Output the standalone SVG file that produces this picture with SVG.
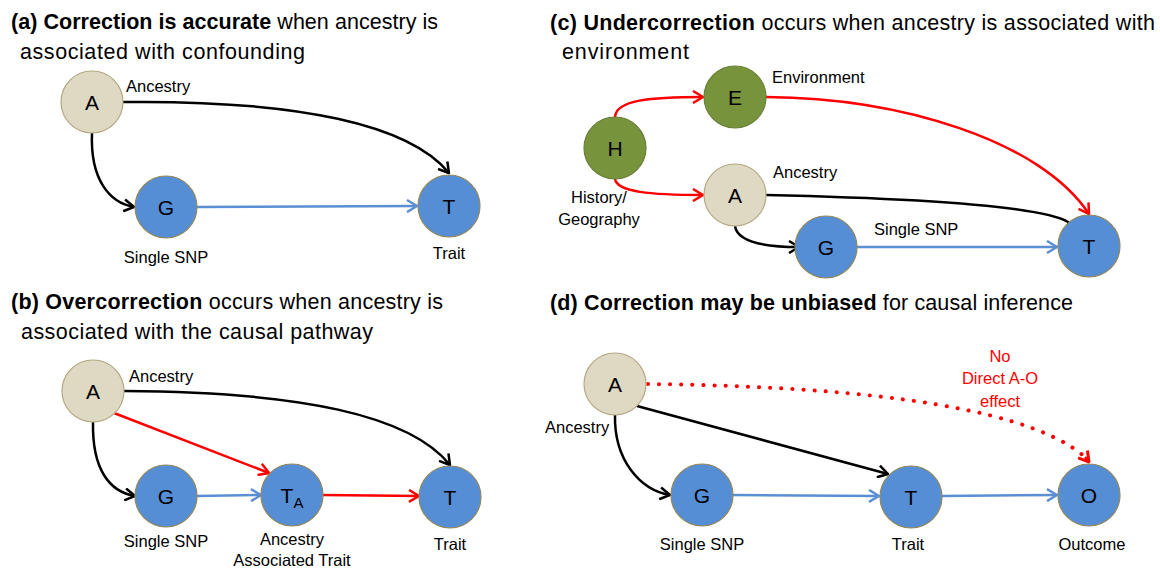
<svg xmlns="http://www.w3.org/2000/svg" width="1160" height="569" viewBox="0 0 1160 569">
<defs>
<style>
.title{font-family:"Liberation Sans",Arial,sans-serif;font-size:21.5px;fill:#000}
.b{font-weight:bold}
.lbl{font-family:"Liberation Sans",Arial,sans-serif;font-size:16.5px;fill:#000}
.red{fill:#ff0000}
.nl{font-family:"Liberation Sans",Arial,sans-serif;font-size:21px;fill:#000;text-anchor:middle}
.mid{text-anchor:middle}
.beige{fill:#ddd9c3;stroke:#b3a882;stroke-width:1.2}
.blue{fill:#558ed5;stroke:#94875a;stroke-width:1.2}
.green{fill:#77933c;stroke:#6a7f38;stroke-width:1.2}
.ek{fill:none;stroke:#000;stroke-width:2.5}
.eb{fill:none;stroke:#5a8fd3;stroke-width:2.5}
.er{fill:none;stroke:#ff0000;stroke-width:2.5}
.ed{fill:none;stroke:#ff0000;stroke-width:4;stroke-linecap:round;stroke-dasharray:0.1 11}
</style>
<marker id="mk" viewBox="0 0 12 14" refX="11" refY="7" markerWidth="12" markerHeight="14" markerUnits="userSpaceOnUse" orient="auto"><path d="M1,1 L11,7 L1,13" fill="none" stroke="#000" stroke-width="2.5"/></marker>
<marker id="mb" viewBox="0 0 12 14" refX="11" refY="7" markerWidth="12" markerHeight="14" markerUnits="userSpaceOnUse" orient="auto"><path d="M1,1 L11,7 L1,13" fill="none" stroke="#5a8fd3" stroke-width="2.5"/></marker>
<marker id="mr" viewBox="0 0 12 14" refX="11" refY="7" markerWidth="12" markerHeight="14" markerUnits="userSpaceOnUse" orient="auto"><path d="M1,1 L11,7 L1,13" fill="none" stroke="#ff0000" stroke-width="2.5"/></marker>
<marker id="mr2" viewBox="0 0 12 14" refX="11" refY="7" markerWidth="12" markerHeight="14" markerUnits="userSpaceOnUse" orient="auto"><path d="M1,1 L11,7 L1,13" fill="none" stroke="#ff0000" stroke-width="3"/></marker>
</defs>
<rect width="1160" height="569" fill="#fff"/>

<!-- Titles -->
<g id="titles">
<text class="title" x="11" y="29" textLength="427" lengthAdjust="spacing"><tspan class="b">(a) Correction is accurate</tspan> when ancestry is</text>
<text class="title" x="20" y="59" textLength="285" lengthAdjust="spacing">associated with confounding</text>
<text class="title" x="11" y="309" textLength="432" lengthAdjust="spacing"><tspan class="b">(b) Overcorrection</tspan> occurs when ancestry is</text>
<text class="title" x="21" y="339" textLength="352" lengthAdjust="spacing">associated with the causal pathway</text>
<text class="title" x="550" y="30" textLength="605" lengthAdjust="spacing"><tspan class="b">(c) Undercorrection</tspan> occurs when ancestry is associated with</text>
<text class="title" x="562" y="59" textLength="127" lengthAdjust="spacing">environment</text>
<text class="title" x="550" y="310" textLength="523" lengthAdjust="spacing"><tspan class="b">(d) Correction may be unbiased</tspan> for causal inference</text>
</g>

<!-- Connectors -->
<g id="connectors">
<!-- (a) -->
<path class="ek" d="M123 102 C300 100 410 125 449 173" marker-end="url(#mk)"/>
<path class="ek" d="M92 133 C90 180 110 203 134 207" marker-end="url(#mk)"/>
<path class="eb" d="M197 207 L417 206" marker-end="url(#mb)"/>
<!-- (b) -->
<path class="ek" d="M124 391 C300 392 410 415 450 465" marker-end="url(#mk)"/>
<path class="er" d="M114 413 L269 473" marker-end="url(#mr)"/>
<path class="ek" d="M93 422 C92 470 110 492 135 496" marker-end="url(#mk)"/>
<path class="eb" d="M197 496 L261 495" marker-end="url(#mb)"/>
<path class="er" d="M323 495 L419 496" marker-end="url(#mr)"/>
<!-- (c) -->
<path class="er" d="M615 117 C616 100 650 97 703 97" marker-end="url(#mr)"/>
<path class="er" d="M615 179 C617 192 650 195 703 195" marker-end="url(#mr)"/>
<path class="er" d="M766 97 C900 98 1040 140 1089 214" marker-end="url(#mr)"/>
<path class="ek" d="M766 195 C900 198 1040 205 1068 222 L1078 232" marker-end="url(#mk)"/>
<path class="ek" d="M735 226 C737 240 760 247 799 247" marker-end="url(#mk)"/>
<path class="eb" d="M857 247 L1057 247" marker-end="url(#mb)"/>
<!-- (d) -->
<path class="ed" d="M648 384 C820 386 1020 400 1085 457"/>
<path class="er" d="M1085 457 L1089 462" marker-end="url(#mr2)"/>
<path class="ek" d="M637 406 L888 474" marker-end="url(#mk)"/>
<path class="ek" d="M615 415 C614 460 640 490 670 495" marker-end="url(#mk)"/>
<path class="eb" d="M733 495 L879 496" marker-end="url(#mb)"/>
<path class="eb" d="M942 496 L1057 495" marker-end="url(#mb)"/>
</g>

<!-- Panel (a) nodes -->
<g id="a-A"><circle class="beige" cx="92" cy="102" r="31"/><text class="nl" x="92" y="110">A</text><text class="lbl" x="126" y="92">Ancestry</text></g>
<g id="a-G"><circle class="blue" cx="166" cy="207" r="31"/><text class="nl" x="166" y="215">G</text><text class="lbl mid" x="166" y="263">Single SNP</text></g>
<g id="a-T"><circle class="blue" cx="449" cy="206" r="31"/><text class="nl" x="449" y="214">T</text><text class="lbl mid" x="449" y="259">Trait</text></g>

<!-- Panel (b) nodes -->
<g id="b-A"><circle class="beige" cx="93" cy="391" r="31"/><text class="nl" x="93" y="399">A</text><text class="lbl" x="129" y="382">Ancestry</text></g>
<g id="b-G"><circle class="blue" cx="166" cy="496" r="31"/><text class="nl" x="166" y="504">G</text><text class="lbl mid" x="166" y="547">Single SNP</text></g>
<g id="b-TA"><circle class="blue" cx="292" cy="495" r="31"/><text class="nl" x="292" y="503">T<tspan font-size="15" dy="5">A</tspan></text><text class="lbl mid" x="292" y="545">Ancestry</text><text class="lbl mid" x="292" y="566">Associated Trait</text></g>
<g id="b-T"><circle class="blue" cx="450" cy="497" r="31"/><text class="nl" x="450" y="505">T</text><text class="lbl mid" x="450" y="550">Trait</text></g>

<!-- Panel (c) nodes -->
<g id="c-E"><circle class="green" cx="735" cy="97" r="31"/><text class="nl" x="735" y="105">E</text><text class="lbl" x="772" y="83">Environment</text></g>
<g id="c-H"><circle class="green" cx="615" cy="148" r="31"/><text class="nl" x="615" y="156">H</text><text class="lbl mid" x="599" y="203">History/</text><text class="lbl mid" x="599" y="225">Geography</text></g>
<g id="c-A"><circle class="beige" cx="735" cy="195" r="31"/><text class="nl" x="735" y="203">A</text><text class="lbl" x="773" y="178">Ancestry</text></g>
<g id="c-G"><circle class="blue" cx="826" cy="247" r="31"/><text class="nl" x="826" y="255">G</text><text class="lbl" x="874" y="235">Single SNP</text></g>
<g id="c-T"><circle class="blue" cx="1089" cy="246" r="31"/><text class="nl" x="1089" y="254">T</text></g>

<!-- Panel (d) nodes -->
<g id="d-A"><circle class="beige" cx="615" cy="384" r="31"/><text class="nl" x="615" y="392">A</text><text class="lbl" x="545" y="433">Ancestry</text></g>
<g id="d-G"><circle class="blue" cx="702" cy="495" r="31"/><text class="nl" x="702" y="503">G</text><text class="lbl mid" x="702" y="550">Single SNP</text></g>
<g id="d-T"><circle class="blue" cx="911" cy="497" r="31"/><text class="nl" x="911" y="505">T</text><text class="lbl mid" x="908" y="550">Trait</text></g>
<g id="d-O"><circle class="blue" cx="1089" cy="495" r="31"/><text class="nl" x="1089" y="503">O</text><text class="lbl mid" x="1092" y="550">Outcome</text></g>
<g id="d-note"><text class="lbl mid red" x="1000" y="362">No</text><text class="lbl mid red" x="1000" y="384">Direct A-O</text><text class="lbl mid red" x="1000" y="407">effect</text></g>
</svg>
